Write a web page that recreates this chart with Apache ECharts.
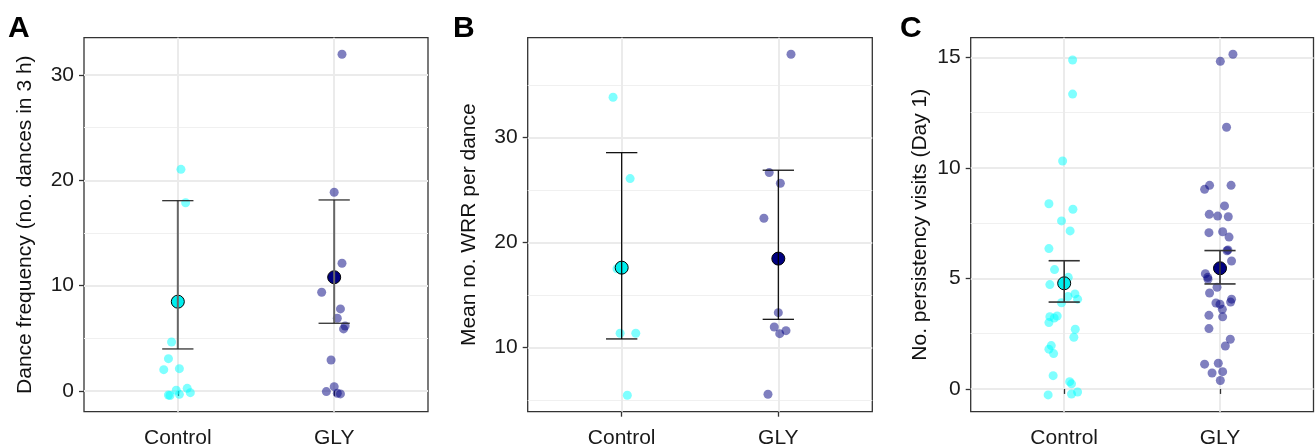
<!DOCTYPE html>
<html>
<head>
<meta charset="utf-8">
<script src="https://cdn.jsdelivr.net/npm/echarts@6/dist/echarts.min.js"></script>
<style>
  html, body { margin: 0; padding: 0; background: #fff; }
  #chart { width: 1315px; height: 446px; }
</style>
</head>
<body>
<div id="chart"></div>
<script>
const groups = ['Control', 'GLY'];

// each point: [horizontal jitter (in group units), value]
// A - dance frequency
const danceControl = [[0.02, 21.05], [0.05, 17.88], [-0.04, 4.65], [-0.06, 3.07], [-0.09, 2.02], [0.01, 2.12],
  [-0.06, -0.38], [-0.05, -0.43], [-0.01, 0.07], [0.01, -0.32], [0.06, 0.25], [0.08, -0.16]];
const danceGly = [[0.05, 31.98], [0.00, 18.87], [0.05, 12.13], [-0.08, 9.37], [0.04, 7.79], [0.02, 6.9],
  [0.06, 5.89], [0.07, 6.17], [-0.02, 2.94], [0.00, 0.41], [-0.05, -0.06], [0.02, -0.22], [0.04, -0.28]];
const danceMean = [8.48, 10.8];
const danceLower = [3.99, 6.43];
const danceUpper = [18.07, 18.14];
const danceTicks = [0, 10, 20, 30];
const danceMinor = [5, 15, 25];

// B - WRR per dance
const wrrControl = [[-0.055, 33.85], [0.054, 26.1], [-0.03, 17.52], [-0.01, 11.37], [0.09, 11.37], [0.036, 5.47]];
const wrrGly = [[0.081, 37.94], [-0.058, 26.67], [0.013, 25.66], [-0.092, 22.32], [0, 13.33], [-0.026, 11.97],
  [0.009, 11.33], [0.049, 11.62], [-0.066, 5.56]];
const wrrMean = [17.62, 18.48];
const wrrLower = [10.83, 12.7];
const wrrUpper = [28.57, 26.9];
const wrrTicks = [10, 20, 30];
const wrrMinor = [5, 15, 25, 35];

// C - persistency visits
const visitControl = [[0.054, 14.88], [0.054, 13.34], [-0.01, 10.31], [-0.098, 8.38], [0.056, 8.13], [-0.017, 7.6],
  [0.038, 7.15], [-0.098, 6.35], [-0.062, 5.4], [0.026, 5.05], [-0.092, 4.72], [0.024, 4.18], [0.069, 4.3],
  [0.086, 4.06], [-0.017, 3.9], [-0.092, 3.27], [-0.064, 3.21], [-0.045, 3.3], [-0.098, 3.0], [0.071, 2.7],
  [0.062, 2.34], [-0.083, 1.96], [-0.098, 1.8], [-0.068, 1.6], [-0.071, 0.6], [0.035, 0.33], [0.047, 0.23],
  [-0.103, -0.27], [0.047, -0.23], [0.086, -0.14]];
const visitGly = [[0.083, 15.14], [0.002, 14.82], [0.042, 11.84], [-0.067, 9.21], [-0.099, 9.03], [0.071, 9.21],
  [0.029, 8.28], [-0.069, 7.9], [-0.015, 7.82], [0.053, 7.79], [-0.071, 7.07], [0.017, 7.11], [0.058, 6.87],
  [0.051, 6.29], [0.045, 6.25], [0.074, 5.79], [-0.094, 5.21], [-0.079, 5.05], [-0.077, 4.96], [-0.019, 4.6],
  [-0.067, 4.34], [-0.026, 3.89], [0, 3.83], [0.074, 4.06], [0.068, 3.93], [0.015, 3.6], [0.017, 3.26],
  [-0.071, 3.33], [-0.071, 2.73], [0.066, 2.25], [0.034, 1.94], [-0.099, 1.12], [-0.011, 1.16], [-0.051, 0.72],
  [0.017, 0.78], [0.002, 0.38]];
const visitMean = [4.78, 5.46];
const visitLower = [3.93, 4.75];
const visitUpper = [5.8, 6.26];
const visitTicks = [0, 5, 10, 15];
const visitMinor = [2.5, 7.5, 12.5];

const FONT = "'Liberation Sans', Arial, sans-serif";
const ptColors = ['rgba(0,255,255,0.5)', 'rgba(0,0,128,0.5)'];
const meanColors = ['#00eeee', '#000080'];

const panels = [
  { letter: 'A', letterX: 8, title: 'Dance frequency (no. dances in 3 h)', left: 84, right: 887, min: -1.97, max: 33.55,
    ticks: danceTicks, minor: danceMinor, pts: [danceControl, danceGly], mean: danceMean, lo: danceLower, hi: danceUpper,
    nameGap: 48, stem: '#666', stemW: 2, cap: '#222', capW: 1.2 },
  { letter: 'B', letterX: 453, title: 'Mean no. WRR per dance', left: 527.7, right: 442.7, min: 3.9, max: 39.52,
    ticks: wrrTicks, minor: wrrMinor, pts: [wrrControl, wrrGly], mean: wrrMean, lo: wrrLower, hi: wrrUpper,
    nameGap: 48, stem: '#000', stemW: 1.2, cap: '#000', capW: 1.2 },
  { letter: 'C', letterX: 900, title: 'No. persistency visits (Day 1)', left: 970.7, right: 1.5, min: -1.03, max: 15.89,
    ticks: visitTicks, minor: visitMinor, pts: [visitControl, visitGly], mean: visitMean, lo: visitLower, hi: visitUpper,
    nameGap: 40, stem: '#333', stemW: 1.6, cap: '#333', capW: 1.6 }
];

const catValues = groups.map((g, i) => i + 1);
const grid = [], xAxis = [], yAxis = [], series = [], graphic = [];

panels.forEach((p, i) => {
  grid.push({ left: p.left, right: p.right, top: 37.7, bottom: 34.3, show: true, outerBoundsMode: 'none',
    borderColor: '#333', borderWidth: 1.3, backgroundColor: 'transparent' });

  xAxis.push({
    type: 'value', gridIndex: i, min: 0.4, max: 2.6,
    axisLine: { show: false },
    axisTick: { customValues: catValues, length: 5, lineStyle: { color: '#333', width: 1.3 } },
    axisLabel: { customValues: catValues, formatter: v => groups[Math.round(v) - 1], fontFamily: FONT,
      fontSize: 21, color: '#1a1a1a', margin: 16 },
    splitLine: { show: true, lineStyle: { color: '#ebebeb', width: 2 } }
  });

  yAxis.push({
    type: 'value', gridIndex: i, min: p.min, max: p.max,
    axisLine: { show: false },
    axisTick: { customValues: p.ticks, length: 5, lineStyle: { color: '#333', width: 1.3 } },
    axisLabel: { customValues: p.ticks, fontFamily: FONT, fontSize: 21, color: '#1a1a1a', margin: 10 },
    splitLine: { show: true, lineStyle: { color: '#ebebeb', width: 2 } },
    name: p.title, nameLocation: 'middle', nameGap: p.nameGap,
    nameTextStyle: { fontFamily: FONT, fontSize: 21, color: '#111' }
  });
  yAxis.push({
    type: 'value', gridIndex: i, min: p.min, max: p.max, position: 'left',
    axisLine: { show: false },
    axisTick: { show: false, customValues: p.minor },
    axisLabel: { show: false, customValues: p.minor },
    splitLine: { show: true, lineStyle: { color: '#f0f0f0', width: 1.2 } }
  });

  p.pts.forEach((arr, g) => {
    series.push({
      type: 'scatter', xAxisIndex: i, yAxisIndex: i * 2, symbolSize: 9, silent: true, z: 2,
      itemStyle: { color: ptColors[g], opacity: 1 },
      data: arr.map(d => [g + 1 + d[0], d[1]])
    });
  });

  series.push({
    type: 'scatter', xAxisIndex: i, yAxisIndex: i * 2, symbolSize: 13, silent: true, z: 3,
    data: p.mean.map((m, g) => ({ value: [g + 1, m],
      itemStyle: { color: meanColors[g], borderColor: '#000', borderWidth: 1, opacity: 1 } }))
  });

  series.push({
    type: 'custom', xAxisIndex: i, yAxisIndex: i * 2, silent: true, z: 4,
    encode: { x: 0, y: [1, 2] },
    data: p.mean.map((m, g) => [g + 1, p.lo[g], p.hi[g]]),
    renderItem: (params, api) => {
      const x = api.value(0), lo = api.value(1), hi = api.value(2);
      const a = api.coord([x, lo]), b = api.coord([x, hi]);
      const l1 = api.coord([x - 0.1, lo]), r1 = api.coord([x + 0.1, lo]);
      const l2 = api.coord([x - 0.1, hi]), r2 = api.coord([x + 0.1, hi]);
      return { type: 'group', children: [
        { type: 'line', shape: { x1: a[0], y1: a[1], x2: b[0], y2: b[1] }, style: { stroke: p.stem, lineWidth: p.stemW } },
        { type: 'line', shape: { x1: l1[0], y1: l1[1], x2: r1[0], y2: r1[1] }, style: { stroke: p.cap, lineWidth: p.capW } },
        { type: 'line', shape: { x1: l2[0], y1: l2[1], x2: r2[0], y2: r2[1] }, style: { stroke: p.cap, lineWidth: p.capW } }
      ] };
    }
  });

  graphic.push({ type: 'text', left: p.letterX, top: 14,
    style: { text: p.letter, font: 'bold 30px ' + FONT, fill: '#000' } });
});

const chart = echarts.init(document.getElementById('chart'));
chart.setOption({ animation: false, grid, xAxis, yAxis, series, graphic });
</script>
</body>
</html>
